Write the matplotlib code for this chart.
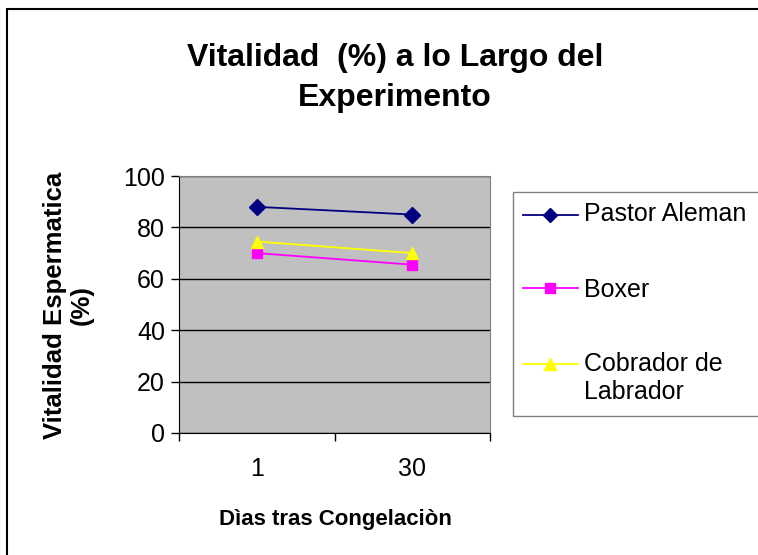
import matplotlib.pyplot as plt
from matplotlib.lines import Line2D
from matplotlib.patches import Rectangle

plt.rcParams['font.family'] = ['Liberation Sans', 'DejaVu Sans']

# Data
days = ['1', '30']
pastor_aleman = [88, 85]
boxer = [70, 65.5]
labrador = [74.5, 70]

series_names = ['Pastor Aleman', 'Boxer', 'Cobrador de\nLabrador']
series_values = [pastor_aleman, boxer, labrador]
series_colors = ['#000080', '#FF00FF', '#FFFF00']
series_markers = ['D', 's', '^']
marker_sizes = [8, 7.5, 9]

W, H = 758, 555
fig = plt.figure(figsize=(W / 100, H / 100), dpi=100)

def fx(px):
    return px / W

def fy(py):
    return 1 - py / H

# Outer chart border
fig.add_artist(Rectangle((fx(7), fy(560)), fx(760) - fx(7), fy(9) - fy(560),
                         transform=fig.transFigure, fill=False,
                         edgecolor='black', linewidth=1.5, clip_on=False))

ax = fig.add_axes([fx(179), fy(433), fx(490) - fx(179), fy(176) - fy(433)])
ax.set_facecolor('#C0C0C0')

x = [i + 0.5 for i in range(len(days))]
for vals, c, m, ms in zip(series_values, series_colors, series_markers, marker_sizes):
    ax.plot(x, vals, color=c, marker=m, markersize=ms, linewidth=1.3,
            markeredgecolor=c, clip_on=False, zorder=3)

ax.set_xlim(0, len(days))
ax.set_ylim(0, 100)
ax.set_yticks(range(0, 101, 20))
ax.yaxis.grid(True, color='black', linewidth=1)
ax.set_axisbelow(True)
ax.tick_params(axis='y', direction='out', length=6, width=1, labelsize=18, pad=4)

ax.set_xticks(range(len(days) + 1))
ax.set_xticklabels([])
ax.set_xticks(x, minor=True)
ax.set_xticklabels(days, minor=True)
ax.tick_params(axis='x', which='major', direction='out', length=6, width=1)
ax.tick_params(axis='x', which='minor', length=0, labelsize=18, pad=17)

for side in ['top', 'right']:
    ax.spines[side].set_color('#808080')
for side in ['left', 'bottom']:
    ax.spines[side].set_color('black')

# Titles and axis labels
fig.text(fx(395), fy(78), 'Vitalidad  (%) a lo Largo del\nExperimento', ha='center',
         va='center', fontsize=23, fontweight='bold', linespacing=1.4)
fig.text(fx(68), fy(305), 'Vitalidad Espermatica\n(%)', rotation=90, ha='center',
         va='center', fontsize=18.5, fontweight='bold', multialignment='center',
         linespacing=1.15)
fig.text(fx(335), fy(519), 'Dìas tras Congelaciòn', ha='center', va='center',
         fontsize=16, fontweight='bold')

# Legend
fig.add_artist(Rectangle((fx(513), fy(416)), fx(770) - fx(513), fy(192) - fy(416),
                         transform=fig.transFigure, fill=False,
                         edgecolor='#808080', linewidth=1, clip_on=False))
legend_rows = [215, 288, 364]
text_tops = [202, 278, 352]
for name, c, m, ms, row, top in zip(series_names, series_colors, series_markers,
                                     marker_sizes, legend_rows, text_tops):
    fig.add_artist(Line2D([fx(523), fx(578)], [fy(row), fy(row)], color=c,
                          linewidth=1.3, transform=fig.transFigure))
    fig.add_artist(Line2D([fx(550)], [fy(row)], color=c, marker=m, markersize=ms - 1,
                          markeredgecolor=c, transform=fig.transFigure))
    fig.text(fx(584), fy(top), name, ha='left', va='top', fontsize=18,
             linespacing=1.2)

fig.savefig('out.png', dpi=100)
